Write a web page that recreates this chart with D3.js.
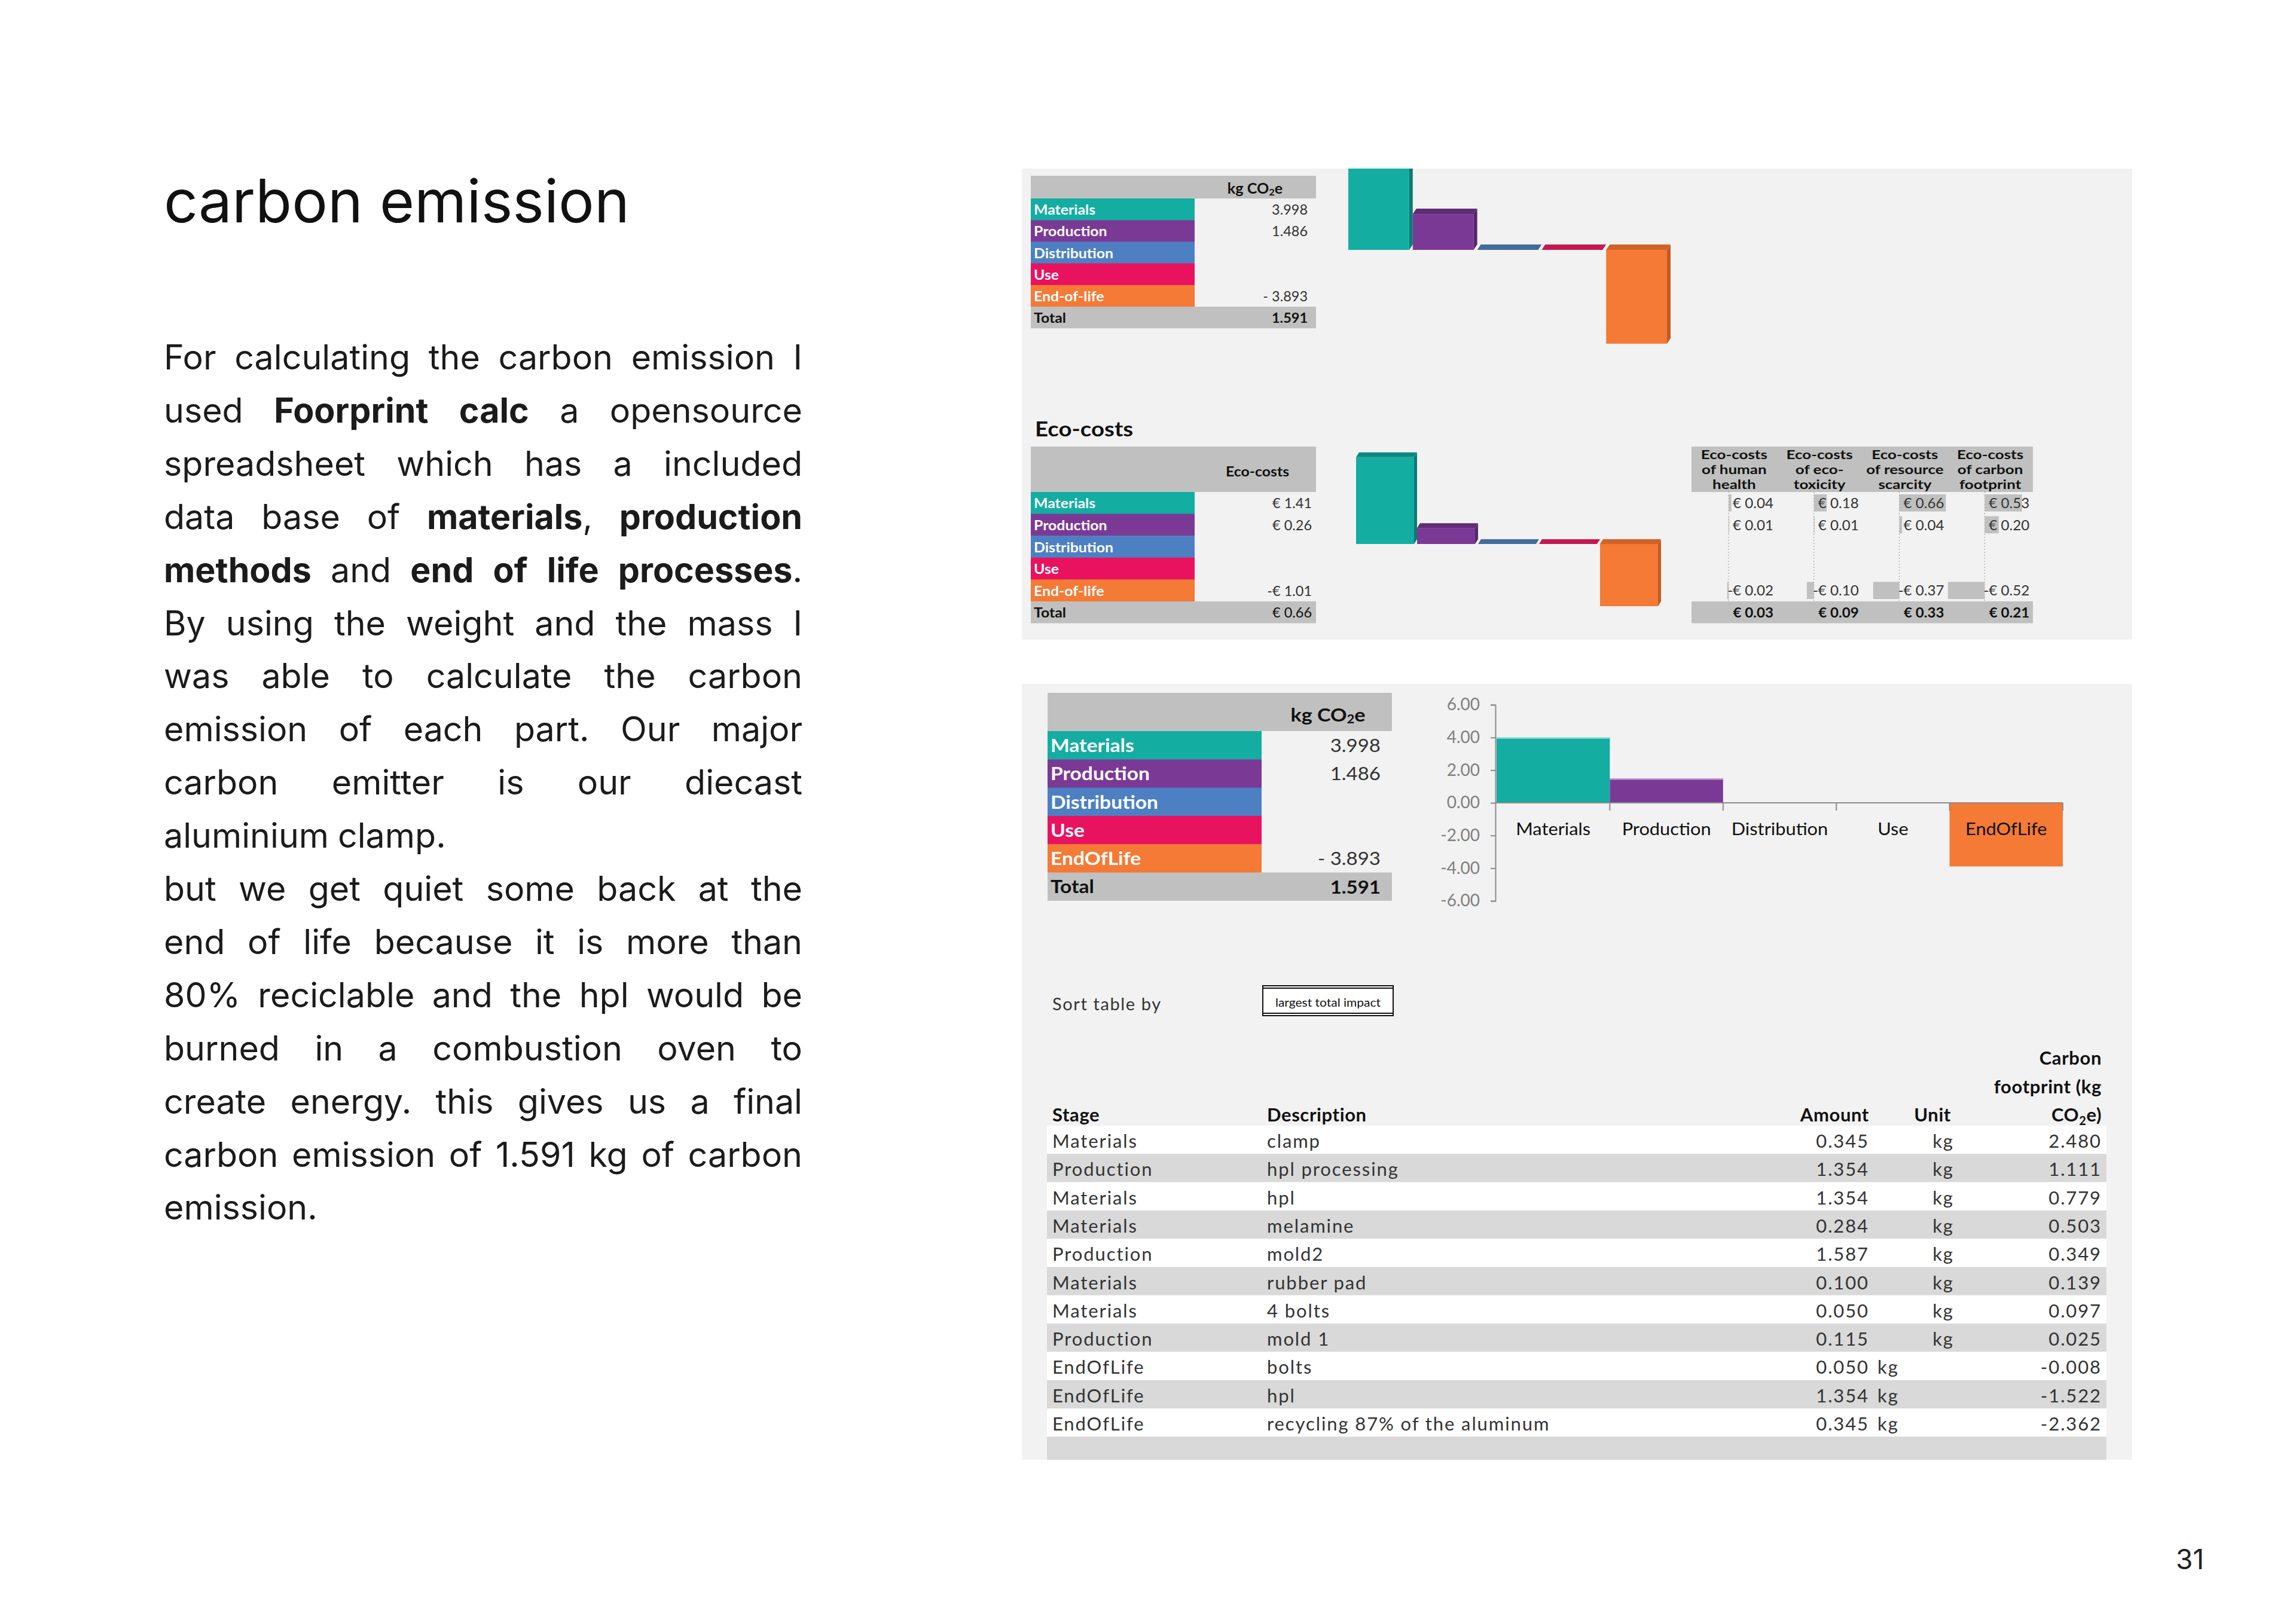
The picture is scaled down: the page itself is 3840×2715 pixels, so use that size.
<!DOCTYPE html>
<html>
<head>
<meta charset="utf-8">
<script src="https://cdn.jsdelivr.net/npm/d3@7"></script>
<style>
  html, body { margin: 0; padding: 0; background: #fff; }
  svg { display: block; }
</style>
</head>
<body>
<svg id="page" width="3840" height="2715"></svg>
<script>
// ---------- data ----------
const stages      = ['Materials', 'Production', 'Distribution', 'Use', 'End-of-life'];
const stagesShort = ['Materials', 'Production', 'Distribution', 'Use', 'EndOfLife'];
const stageColors = ['#13ada2', '#7b3996', '#4c80c3', '#e9125f', '#f47a36'];
const stageDark   = ['#0b7c74', '#57266d', '#3d6590', '#b71a4c', '#c65a22'];

const carbonKg    = [3.998, 1.486, 0, 0, -3.893];
const carbonTotal = 1.591;
const ecoCosts    = [1.41, 0.26, 0, 0, -1.01];
const ecoTotal    = 0.66;

const ecoHeads = [
  ['Eco-costs', 'of human', 'health'],
  ['Eco-costs', 'of eco-', 'toxicity'],
  ['Eco-costs', 'of resource', 'scarcity'],
  ['Eco-costs', 'of carbon', 'footprint']
];
const ecoHuman     = [0.04, 0.01, null, null, -0.02];
const ecoToxicity  = [0.18, 0.01, null, null, -0.10];
const ecoResource  = [0.66, 0.04, null, null, -0.37];
const ecoCarbon    = [0.53, 0.20, null, null, -0.52];
const ecoSubTotals = [0.03, 0.09, 0.33, 0.21];

const yTicks = [6, 4, 2, 0, -2, -4, -6];

const rowStage = ['Materials', 'Production', 'Materials', 'Materials', 'Production', 'Materials',
                  'Materials', 'Production', 'EndOfLife', 'EndOfLife', 'EndOfLife'];
const rowDesc  = ['clamp', 'hpl processing', 'hpl', 'melamine', 'mold2', 'rubber pad',
                  '4 bolts', 'mold 1', 'bolts', 'hpl', 'recycling 87% of the aluminum'];
const rowAmount    = [0.345, 1.354, 1.354, 0.284, 1.587, 0.100, 0.050, 0.115, 0.050, 1.354, 0.345];
const rowUnit      = ['kg', 'kg', 'kg', 'kg', 'kg', 'kg', 'kg', 'kg', 'kg', 'kg', 'kg'];
const rowFootprint = [2.480, 1.111, 0.779, 0.503, 0.349, 0.139, 0.097, 0.025, -0.008, -1.522, -2.362];

const titleText = 'carbon emission';
const paragraphs = [
  ['For calculating the carbon emission I',
   'used **Foorprint calc** a opensource',
   'spreadsheet which has a included',
   'data base of **materials**, **production**',
   '**methods** and **end of life processes**.',
   'By using the weight and the mass I',
   'was able to calculate the carbon',
   'emission of each part. Our major',
   'carbon emitter is our diecast',
   'aluminium clamp.'],
  ['but we get quiet some back at the',
   'end of life because it is more than',
   '80% reciclable and the hpl would be',
   'burned in a combustion oven to',
   'create energy. this gives us a final',
   'carbon emission of 1.591 kg of carbon',
   'emission.']
];
const pageNumber = '31';

// ---------- helpers ----------
const svg = d3.select('#page');
const FONT = 'Lato, "Open Sans", sans-serif';
const PAGE_FONT = 'Inter, Lato, sans-serif';
const fmtKg  = v => v === 0 ? '' : (v < 0 ? '- ' : '') + Math.abs(v).toFixed(3);
const fmtEur = v => v === null || v === 0 ? '' : (v < 0 ? '-€ ' : '€ ') + Math.abs(v).toFixed(2);
const fmt3 = v => v.toFixed(3);

function label(g, x, y, s, o = {}) {
  return g.append('text')
    .attr('transform', `translate(${x},${y}) scale(${o.sx || 1},1)`)
    .attr('text-anchor', o.anchor || 'start')
    .attr('dominant-baseline', o.base || 'central')
    .style('font-family', o.font || FONT)
    .style('font-size', (o.size || 24) + 'px')
    .style('font-weight', o.weight || 400)
    .style('letter-spacing', o.ls ? o.ls + 'px' : null)
    .attr('fill', o.fill || '#262626')
    .text(s);
}

// "kg CO2e" with a subscript 2
function co2Label(g, x, y, size, sx, pre, post) {
  const t = label(g, x, y, null, { anchor: 'middle', size: size, weight: 700, sx: sx, fill: '#111' });
  t.append('tspan').text(pre + 'CO');
  t.append('tspan').attr('dy', size * 0.25).style('font-size', (size * 0.65) + 'px').text('2');
  t.append('tspan').attr('dy', -size * 0.25).text('e' + post);
  return t;
}

// coloured stage table (label cells + value column + total row)
function stageTable(g, o) {
  g.append('rect').attr('x', o.x).attr('y', o.top).attr('width', o.w).attr('height', o.headH).attr('fill', '#c0c0c0');
  o.labels.forEach((s, i) => {
    const y = o.top + o.headH + i * o.rowH;
    g.append('rect').attr('x', o.x).attr('y', y).attr('width', o.cellW).attr('height', o.rowH + 0.5)
      .attr('fill', stageColors[i]);
    label(g, o.x + 5, y + o.rowH / 2, s, { size: o.size, weight: 700, fill: '#fff', sx: o.sx });
    label(g, o.valueRight, y + o.rowH / 2, o.fmt(o.values[i]), { size: o.vsize, anchor: 'end', sx: o.vsx, fill: '#333' });
  });
  const ty = o.top + o.headH + o.labels.length * o.rowH;
  g.append('rect').attr('x', o.x).attr('y', ty).attr('width', o.w).attr('height', o.rowH).attr('fill', '#c0c0c0');
  label(g, o.x + 5, ty + o.rowH / 2, 'Total', { size: o.size, weight: 700, fill: '#111', sx: o.sx });
  label(g, o.valueRight, ty + o.rowH / 2, o.fmtTotal(o.total),
        { size: o.vsize, anchor: 'end', sx: o.vsx, weight: o.totalWeight || 700, fill: '#111' });
}

// excel-style 3D columns
function bars3d(g, values, x, y, depth, side) {
  values.forEach((v, i) => {
    const x0 = x(stages[i]), bw = x.bandwidth();
    const yt = y(Math.max(v, 0)), yb = y(Math.min(v, 0));
    if (yb - yt > 0.5) {
      g.append('rect').attr('x', x0).attr('y', yt).attr('width', bw - side).attr('height', yb - yt)
        .attr('fill', stageColors[i]);
      g.append('polygon').attr('fill', stageDark[i])
        .attr('points', [[x0 + bw - side, yt], [x0 + bw, yt - depth], [x0 + bw, yb - depth], [x0 + bw - side, yb]].join(' '));
    }
    g.append('polygon').attr('fill', d3.interpolateRgb(stageDark[i], stageColors[i])(0.25))
      .attr('points', [[x0, yt], [x0 + side, yt - depth], [x0 + bw, yt - depth], [x0 + bw - side, yt]].join(' '));
  });
}

// ---------- left column text ----------
const titleEl = svg.append('text').attr('x', 274).attr('y', 372)
  .style('font-family', PAGE_FONT).style('font-size', '100px').attr('fill', '#111').text(titleText);
titleEl.style('font-size', (100 * 779 / titleEl.node().getComputedTextLength()) + 'px');

function parseLine(s) {
  const words = [];
  let cur = [];
  s.split('**').forEach((part, i) => {
    part.split(' ').forEach((piece, j) => {
      if (j > 0) { if (cur.length) words.push(cur); cur = []; }
      if (piece) cur.push({ t: piece, b: i % 2 === 1 });
    });
  });
  if (cur.length) words.push(cur);
  return words;
}

const bodyG = svg.append('g').style('font-family', PAGE_FONT).style('font-size', '54px').attr('fill', '#1b1b1b');
// size the body so that a free-running line matches the reference width
const probe = bodyG.append('text').text('aluminium clamp.');
const bodySize = 54 * 473 / probe.node().getComputedTextLength();
probe.remove();
bodyG.style('font-size', bodySize + 'px');

const bodyX = 274, bodyW = 1068, bodyTop = 618, bodyStep = 88.9;
let lineNo = 0;
paragraphs.forEach(lines => {
  lines.forEach((line, li) => {
    const y = bodyTop + lineNo * bodyStep;
    const nodes = parseLine(line).map(w => {
      const t = bodyG.append('text').attr('y', y);
      w.forEach(r => t.append('tspan').style('font-weight', r.b ? 700 : 400).text(r.t));
      return t;
    });
    const widths = nodes.map(n => n.node().getComputedTextLength());
    const last = li === lines.length - 1;
    const gap = last || nodes.length < 2 ? bodySize * 0.26 : (bodyW - d3.sum(widths)) / (nodes.length - 1);
    let x = bodyX;
    nodes.forEach((n, k) => { n.attr('x', x); x += widths[k] + gap; });
    lineNo++;
  });
});

svg.append('text').attr('x', 3639).attr('y', 2625).style('font-family', PAGE_FONT).style('font-size', '46px')
  .attr('fill', '#222').text(pageNumber);

// ---------- top panel ----------
const topP = { x: 1709, y: 282, w: 1857, h: 788 };
svg.append('defs').append('clipPath').attr('id', 'topclip')
  .append('rect').attr('x', topP.x).attr('y', topP.y).attr('width', topP.w).attr('height', topP.h);
const topG = svg.append('g').attr('clip-path', 'url(#topclip)');
topG.append('rect').attr('x', topP.x).attr('y', topP.y).attr('width', topP.w).attr('height', topP.h).attr('fill', '#f2f2f2');

// carbon table
stageTable(topG, {
  x: 1724, top: 294, w: 477, headH: 38, rowH: 36.2, cellW: 274, valueRight: 2187,
  labels: stages, values: carbonKg, fmt: fmtKg, total: carbonTotal, fmtTotal: fmtKg,
  size: 23, sx: 1.08, vsize: 23, vsx: 1.02
});
co2Label(topG, 2099, 314, 24, 1.05, 'kg ', '');

const x1 = d3.scaleBand().domain(stages).range([2255, 2794]);
const y1 = d3.scaleLinear().domain([-4, 4]).range([418 + 161.2, 418 - 161.2]);
bars3d(topG.append('g'), carbonKg, x1, y1, 9, 6);

// eco-costs
label(topG, 1731, 730, 'Eco-costs', { size: 34, weight: 700, base: 'auto', fill: '#111', sx: 1.13 });
stageTable(topG, {
  x: 1724, top: 747, w: 477, headH: 76, rowH: 36.6, cellW: 274, valueRight: 2194,
  labels: stages, values: ecoCosts, fmt: fmtEur, total: ecoTotal, fmtTotal: fmtEur, totalWeight: 400,
  size: 23, sx: 1.08, vsize: 23, vsx: 1.02
});
label(topG, 2103, 788, 'Eco-costs', { size: 23, weight: 700, anchor: 'middle', fill: '#111', sx: 1.08 });

const x2 = d3.scaleBand().domain(stages).range([2268, 2778]);
const y2 = d3.scaleLinear().domain([-1.5, 1.5]).range([910 + 154.5, 910 - 154.5]);
bars3d(topG.append('g'), ecoCosts, x2, y2, 8, 5);

// eco-cost breakdown with data bars
const ecoCols = [ecoHuman, ecoToxicity, ecoResource, ecoCarbon];
const ecoX = d3.scaleBand().domain(d3.range(4)).range([2829, 3400]);
const ecoBar = d3.scaleLinear().domain([0, 1]).range([0, 118]);
const ecoRowTop = 823, ecoRowH = 36.6;
topG.append('rect').attr('x', 2829).attr('y', 747).attr('width', 571).attr('height', 76).attr('fill', '#c0c0c0');
topG.append('rect').attr('x', 2829).attr('y', ecoRowTop + 5 * ecoRowH).attr('width', 571).attr('height', ecoRowH).attr('fill', '#c0c0c0');
ecoCols.forEach((col, c) => {
  const cx = ecoX(c), axisX = cx + 62, right = cx + 137;
  ecoHeads[c].forEach((s, k) => {
    label(topG, cx + ecoX.bandwidth() / 2, 768 + k * 25, s, { size: 20, weight: 700, anchor: 'middle', base: 'auto', sx: 1.3, fill: '#111' });
  });
  topG.append('line').attr('x1', axisX).attr('x2', axisX).attr('y1', ecoRowTop).attr('y2', ecoRowTop + 5 * ecoRowH)
    .attr('stroke', '#9a9a9a').attr('stroke-dasharray', '2,3');
  col.forEach((v, r) => {
    if (v === null) return;
    const ry = ecoRowTop + r * ecoRowH;
    const w = ecoBar(Math.abs(v));
    topG.append('rect').attr('x', v < 0 ? axisX - w : axisX).attr('y', ry + 4).attr('width', w).attr('height', ecoRowH - 8)
      .attr('fill', '#c0c0c0');
    label(topG, right, ry + ecoRowH / 2, fmtEur(v), { size: 23, anchor: 'end', fill: '#333', sx: 1.05 });
  });
  label(topG, right, ecoRowTop + 5 * ecoRowH + ecoRowH / 2, fmtEur(ecoSubTotals[c]), { size: 23, anchor: 'end', weight: 700, fill: '#111', sx: 1.05 });
});

// ---------- bottom panel ----------
const botP = { x: 1709, y: 1144, w: 1857, h: 1298 };
const bot = svg.append('g');
bot.append('rect').attr('x', botP.x).attr('y', botP.y).attr('width', botP.w).attr('height', botP.h).attr('fill', '#f2f2f2');

stageTable(bot, {
  x: 1752, top: 1159, w: 576, headH: 64, rowH: 47.3, cellW: 358, valueRight: 2309,
  labels: stagesShort, values: carbonKg, fmt: fmtKg, total: carbonTotal, fmtTotal: fmtKg,
  size: 30, sx: 1.12, vsize: 30, vsx: 1.1
});
co2Label(bot, 2221, 1195, 31, 1.1, 'kg ', '');

// bar chart with axes
const x3 = d3.scaleBand().domain(stagesShort).range([2503, 3450]);
const y3 = d3.scaleLinear().domain([-6, 6]).range([1507, 1179]);
const chart3 = bot.append('g');
carbonKg.forEach((v, i) => {
  const yt = y3(Math.max(v, 0)), yb = y3(Math.min(v, 0));
  if (yb - yt < 0.5) return;
  chart3.append('rect').attr('x', x3(stagesShort[i])).attr('y', yt).attr('width', x3.bandwidth()).attr('height', yb - yt)
    .attr('fill', stageColors[i]);
  if (v > 0) chart3.append('rect').attr('x', x3(stagesShort[i])).attr('y', yt).attr('width', x3.bandwidth()).attr('height', 2)
    .attr('fill', d3.interpolateRgb(stageColors[i], '#ffffff')(0.55));
});
const yAxis = chart3.append('g').attr('transform', 'translate(2501,0)')
  .call(d3.axisLeft(y3).tickValues(yTicks).tickFormat(v => v.toFixed(2)).tickSize(8).tickPadding(18));
yAxis.select('.domain').attr('stroke', '#8c8c8c').attr('stroke-width', 2);
yAxis.selectAll('.tick line').attr('stroke', '#8c8c8c').attr('stroke-width', 2);
yAxis.selectAll('.tick text').attr('fill', '#808080').style('font-family', FONT).style('font-size', '28px');

chart3.append('line').attr('x1', 2501).attr('x2', x3.range()[1]).attr('y1', y3(0)).attr('y2', y3(0))
  .attr('stroke', '#8c8c8c').attr('stroke-width', 2);
stagesShort.forEach((s, i) => {
  const edge = x3(s) + x3.bandwidth();
  chart3.append('line').attr('x1', edge).attr('x2', edge).attr('y1', y3(0)).attr('y2', y3(0) + 13)
    .attr('stroke', '#8c8c8c').attr('stroke-width', 2);
  label(chart3, x3(s) + x3.bandwidth() / 2, 1386, s, { size: 28, anchor: 'middle', fill: '#111', sx: 1.1 });
});

// sort control
label(bot, 1760, 1678, 'Sort table by', { size: 29, fill: '#333', ls: 1.6 });
bot.append('rect').attr('x', 2112).attr('y', 1649).attr('width', 218).attr('height', 50)
  .attr('fill', '#fff').attr('stroke', '#111').attr('stroke-width', 2);
bot.append('line').attr('x1', 2112).attr('x2', 2330).attr('y1', 1653).attr('y2', 1653).attr('stroke', '#111').attr('stroke-width', 2);
bot.append('line').attr('x1', 2112).attr('x2', 2330).attr('y1', 1695).attr('y2', 1695).attr('stroke', '#111').attr('stroke-width', 2);
label(bot, 2221, 1676, 'largest total impact', { size: 20, anchor: 'middle', fill: '#111', sx: 1.05 });

// detail table
const tbl = bot.append('g');
const tRowTop = 1883, tRowH = 47.3;
const colStage = 1760, colDesc = 2119, colAmount = 3126, colUnit = 3250, colUnitHead = 3263, colFoot = 3515;
const tOpt = { size: 31, fill: '#333', ls: 1.9, base: 'auto' };
const hOpt = { size: 31, fill: '#111', weight: 700, base: 'auto', ls: 0.6 };
label(tbl, colFoot, 1781, 'Carbon', { ...hOpt, anchor: 'end' });
label(tbl, colFoot, 1829, 'footprint (kg', { ...hOpt, anchor: 'end' });
label(tbl, colStage, 1876, 'Stage', hOpt);
label(tbl, colDesc, 1876, 'Description', hOpt);
label(tbl, colAmount, 1876, 'Amount', { ...hOpt, anchor: 'end' });
label(tbl, colUnitHead, 1876, 'Unit', { ...hOpt, anchor: 'end' });
const footHead = label(tbl, colFoot, 1876, null, { ...hOpt, anchor: 'end' });
footHead.append('tspan').text('CO');
footHead.append('tspan').attr('dy', 6).style('font-size', '20px').text('2');
footHead.append('tspan').attr('dy', -6).text('e)');

rowStage.forEach((s, i) => {
  const ry = tRowTop + i * tRowH;
  tbl.append('rect').attr('x', 1751).attr('y', ry).attr('width', 1772).attr('height', tRowH)
    .attr('fill', i % 2 === 0 ? '#ffffff' : '#d9d9d9');
  const by = ry + 37;
  label(tbl, colStage, by, s, tOpt);
  label(tbl, colDesc, by, rowDesc[i], tOpt);
  label(tbl, colAmount, by, fmt3(rowAmount[i]), { ...tOpt, anchor: 'end' });
  if (s === 'EndOfLife') label(tbl, colAmount + 14, by, rowUnit[i], tOpt);
  else label(tbl, colUnit, by, rowUnit[i], { ...tOpt, anchor: 'middle' });
  label(tbl, colFoot, by, fmt3(rowFootprint[i]), { ...tOpt, anchor: 'end' });
});
const endY = tRowTop + rowStage.length * tRowH;
tbl.append('rect').attr('x', 1751).attr('y', endY).attr('width', 1772).attr('height', botP.y + botP.h - endY)
  .attr('fill', '#d9d9d9');
</script>
</body>
</html>
